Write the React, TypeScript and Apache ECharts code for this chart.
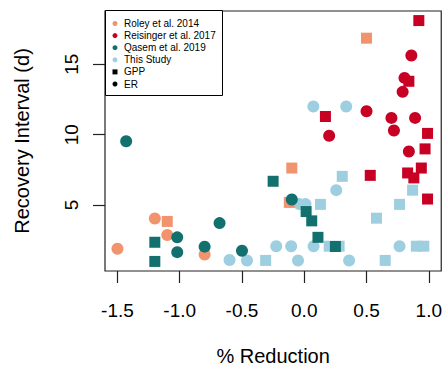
import React, { useEffect, useRef } from "react";
import * as echarts from "echarts";

// Data: [% Reduction, Recovery Interval (d)]
const roleyGPP: number[][] = [[-1.10, 3.84], [-0.12, 5.19], [-0.10, 7.63], [0.50, 16.85]];
const roleyER: number[][] = [[-1.50, 1.9], [-1.20, 4.05], [-1.10, 2.88], [-0.80, 1.49]];
const reisingerGPP: number[][] = [
  [0.92, 18.1], [0.84, 13.79], [0.17, 11.29], [0.99, 10.09], [0.97, 8.99],
  [0.94, 7.63], [0.83, 7.28], [0.88, 6.93], [0.53, 7.11], [0.99, 5.43],
];
const reisingerER: number[][] = [
  [0.86, 15.62], [0.805, 14.03], [0.79, 13.04], [0.20, 9.92], [0.50, 11.66],
  [0.70, 11.19], [0.72, 10.30], [0.89, 11.19], [0.84, 8.80],
];
const qasemGPP: number[][] = [
  [-1.20, 2.36], [-1.20, 1.0], [-0.25, 6.69], [0.015, 4.54], [0.06, 3.88], [0.11, 2.71], [0.25, 2.06],
];
const qasemER: number[][] = [
  [-1.43, 9.53], [-1.02, 2.71], [-1.02, 1.66], [-0.80, 2.05], [-0.68, 3.72], [-0.50, 1.76], [-0.10, 5.40],
];
const thisGPP: number[][] = [
  [-0.31, 1.07], [0.20, 2.08], [0.28, 2.08], [0.65, 1.07], [0.90, 2.08], [0.96, 2.08],
  [0.13, 5.05], [0.305, 7.04], [0.58, 4.07], [0.765, 5.05], [0.87, 6.06],
];
const thisER: number[][] = [
  [-0.60, 1.1], [-0.46, 1.07], [-0.225, 2.08], [-0.105, 2.08], [-0.05, 1.07], [0.075, 2.08],
  [0.36, 1.07], [0.765, 2.08], [-0.04, 5.07], [0.01, 5.07], [0.257, 6.06], [0.073, 12.0], [0.337, 12.0],
];

const xTicks = [-1.5, -1.0, -0.5, 0.0, 0.5, 1.0];
const yTicks = [5, 10, 15];
const studyNames = ["Roley et al. 2014", "Reisinger et al. 2017", "Qasem et al. 2019", "This Study"];
const typeNames = ["GPP", "ER"];

const COLORS = {
  roley: "#F1946E",
  reisinger: "#C70024",
  qasem: "#12706E",
  thisStudy: "#9DCFE0",
};

const FONT = "'Liberation Sans', Arial, Helvetica, sans-serif";

export default function App() {
  const ref = useRef<HTMLDivElement>(null);
  useEffect(() => {
    if (!ref.current) return;
    document.body.style.margin = "0";
    const chart = echarts.init(ref.current, undefined, { renderer: "svg" });

    const mk = (name: string, data: number[][], color: string, gpp: boolean) => ({
      name,
      type: "scatter",
      data,
      symbol: gpp ? "rect" : "circle",
      symbolSize: gpp ? 11 : 12,
      itemStyle: { color, opacity: 1 },
      emphasis: { disabled: true },
    });

    const legendColors = [COLORS.roley, COLORS.reisinger, COLORS.qasem, COLORS.thisStudy];
    const lx = 105.5, ly = 10.5, lw = 117, lh = 85;
    const rowY = (i: number) => 23.5 + i * 12.1;
    const legendChildren: any[] = [
      { type: "rect", shape: { x: lx, y: ly, width: lw, height: lh }, style: { fill: "#fff", stroke: "#000", lineWidth: 1 } },
    ];
    studyNames.forEach((n, i) => {
      legendChildren.push({ type: "circle", shape: { cx: 115, cy: rowY(i), r: 2.5 }, style: { fill: legendColors[i] } });
      legendChildren.push({ type: "text", x: 124, y: rowY(i), style: { text: n, font: `10px ${FONT}`, fill: "#000", verticalAlign: "middle" } });
    });
    typeNames.forEach((n, j) => {
      const i = j + 4;
      if (n === "GPP") {
        legendChildren.push({ type: "rect", shape: { x: 112.5, y: rowY(i) - 2.5, width: 5, height: 5 }, style: { fill: "#000" } });
      } else {
        legendChildren.push({ type: "circle", shape: { cx: 115, cy: rowY(i), r: 2.5 }, style: { fill: "#000" } });
      }
      legendChildren.push({ type: "text", x: 124, y: rowY(i), style: { text: n, font: `10px ${FONT}`, fill: "#000", verticalAlign: "middle" } });
    });

    chart.setOption({
      animation: false,
      grid: { left: 105, right: 3, top: 11, bottom: 98, show: true, borderColor: "#222", borderWidth: 1.2, backgroundColor: "transparent" },
      xAxis: {
        type: "value",
        min: -1.6,
        max: 1.1,
        name: "% Reduction",
        nameLocation: "middle",
        nameGap: 75,
        nameTextStyle: { fontFamily: FONT, fontSize: 20, color: "#000" },
        axisLine: { show: false, onZero: false },
        splitLine: { show: false },
        axisTick: { show: true, length: 12, customValues: xTicks, lineStyle: { color: "#222", width: 1.2 } },
        axisLabel: {
          customValues: xTicks,
          formatter: (v: number) => v.toFixed(1),
          fontFamily: FONT, fontSize: 19, color: "#000", margin: 30,
        },
      },
      yAxis: {
        type: "value",
        min: 0.32,
        max: 18.78,
        name: "Recovery Interval (d)",
        nameLocation: "middle",
        nameGap: 73,
        nameTextStyle: { fontFamily: FONT, fontSize: 20, color: "#000" },
        axisLine: { show: false, onZero: false },
        splitLine: { show: false },
        axisTick: { show: true, length: 12, customValues: yTicks, lineStyle: { color: "#222", width: 1.2 } },
        axisLabel: {
          customValues: yTicks,
          rotate: 90,
          fontFamily: FONT, fontSize: 19, color: "#000", margin: 24,
        },
      },
      series: [
        mk("This Study GPP", thisGPP, COLORS.thisStudy, true),
        mk("This Study ER", thisER, COLORS.thisStudy, false),
        mk("Roley GPP", roleyGPP, COLORS.roley, true),
        mk("Roley ER", roleyER, COLORS.roley, false),
        mk("Qasem GPP", qasemGPP, COLORS.qasem, true),
        mk("Qasem ER", qasemER, COLORS.qasem, false),
        mk("Reisinger GPP", reisingerGPP, COLORS.reisinger, true),
        mk("Reisinger ER", reisingerER, COLORS.reisinger, false),
      ],
      graphic: [{ type: "group", children: legendChildren, z: 100 }],
    });
    return () => chart.dispose();
  }, []);
  return <div ref={ref} style={{ width: 445, height: 371 }} />;
}
